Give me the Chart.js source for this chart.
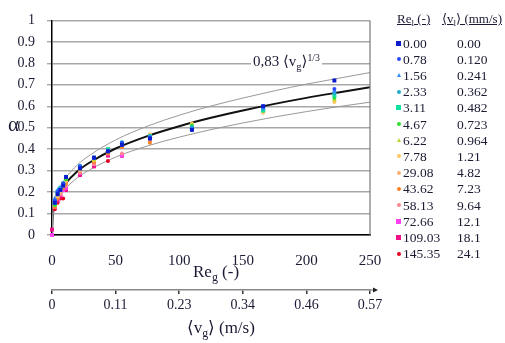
<!DOCTYPE html>
<html>
<head>
<meta charset="utf-8">
<script src="https://cdn.jsdelivr.net/npm/chart.js@4"></script>
<style>
  body { margin: 0; background: #fff; }
  #wrap { position: relative; width: 505px; height: 343px; font-family: "Liberation Serif", "DejaVu Serif", serif; color: #1a1a33; }
  #wrap canvas { position: absolute; left: 0; top: 0; }
  .t { position: absolute; white-space: nowrap; line-height: 1; }
  .t sub { font-size: 0.7em; vertical-align: -0.35em; line-height: 0; }
  .t sup { font-size: 0.65em; vertical-align: 0.55em; line-height: 0; }
  .mk { position: absolute; }
</style>
</head>
<body>
<div id="wrap">
  <canvas id="alphaChart" width="505" height="343"></canvas>
  <div class="t" style="left:8px;top:114px;font-size:21px;">α</div>
  <div class="t" style="left:193px;top:263px;font-size:17px;">Re<sub>g</sub> (-)</div>
  <div class="t" style="left:187px;top:319px;font-size:17px;">⟨v<sub>g</sub>⟩ (m/s)</div>
  <div class="t" style="left:251px;top:53px;font-size:15px;background:#fff;padding:1px 2px 3px 2px;">0,83 ⟨v<sub>g</sub>⟩<sup>1/3</sup></div>
  <div class="t" style="left:397px;top:12px;font-size:13px;text-decoration:underline;">Re<sub>l</sub> (-)</div>
  <div class="t" style="left:442px;top:12px;font-size:13px;text-decoration:underline;">⟨v<sub>l</sub>⟩ (mm/s)</div>
  <div id="legend"></div>
</div>
<script>
// Re_g (-) des colonnes de mesure
const reG = [0, 2.2, 4.4, 6.6, 8.8, 11, 22, 33, 44, 55, 77, 110, 166, 222];

// legende : Re_l (-) et <v_l> (mm/s)
const reL = ["0.00", "0.78", "1.56", "2.33", "3.11", "4.67", "6.22", "7.78", "29.08", "43.62", "58.13", "72.66", "109.03", "145.35"];
const vL = ["0.00", "0.120", "0.241", "0.362", "0.482", "0.723", "0.964", "1.21", "4.82", "7.23", "9.64", "12.1", "18.1", "24.1"];

// alpha mesure, une ligne par serie (null = pas de point)
const alpha = [
  [null, 0.15, 0.19, 0.21, 0.23, 0.27, 0.31, 0.36, 0.39, 0.42, 0.45, 0.49, 0.60, 0.72],
  [null, 0.16, 0.20, 0.21, 0.24, 0.27, 0.32, 0.36, 0.39, 0.43, 0.45, 0.49, 0.60, 0.68],
  [null, 0.17, 0.21, 0.22, 0.24, 0.27, 0.32, 0.36, 0.39, 0.43, 0.46, 0.50, 0.59, 0.67],
  [null, 0.15, 0.20, 0.22, 0.24, 0.27, 0.32, 0.36, 0.39, 0.42, 0.46, 0.50, 0.59, 0.66],
  [null, 0.15, 0.20, 0.22, 0.24, 0.27, 0.32, 0.36, 0.40, 0.43, 0.46, 0.50, 0.58, 0.65],
  [null, 0.14, 0.19, 0.22, 0.24, 0.26, 0.31, 0.36, 0.39, 0.43, 0.46, 0.51, 0.58, 0.64],
  [null, 0.14, 0.19, 0.21, 0.24, 0.26, 0.31, 0.35, 0.39, 0.42, 0.46, 0.51, 0.58, 0.63],
  [null, 0.14, 0.18, 0.21, 0.24, 0.26, 0.31, 0.35, 0.40, 0.42, 0.47, 0.52, 0.57, 0.62],
  [null, 0.14, 0.18, 0.20, 0.23, 0.25, 0.30, 0.35, 0.39, 0.42, 0.46, null, null, null],
  [null, 0.13, 0.17, 0.20, 0.22, 0.24, 0.30, 0.34, 0.38, 0.41, 0.43, null, null, null],
  [null, 0.13, 0.17, 0.19, 0.22, 0.23, 0.29, 0.33, 0.38, 0.38, 0.44, null, null, null],
  [0, 0.13, 0.17, 0.19, 0.21, 0.22, 0.29, 0.33, 0.38, 0.37, 0.45, null, null, null],
  [0.025, 0.13, 0.16, 0.18, 0.21, 0.21, 0.28, 0.32, 0.37, 0.37, null, null, null, null],
  [null, 0.12, 0.15, 0.17, 0.17, 0.21, 0.28, 0.32, 0.345, 0.37, null, null, null, null]
];

// courbe 0,83 <v_g>^(1/3) et bornes +/-10 %
const curveRe = [0, 0.5, 1, 2, 5, 10, 20, 30, 50, 75, 100, 125, 150, 175, 200, 225, 250];
const fitMid  = [0, 0.087, 0.109, 0.138, 0.187, 0.235, 0.297, 0.339, 0.403, 0.461, 0.507, 0.546, 0.580, 0.611, 0.639, 0.664, 0.688];
const fitHigh = [0, 0.096, 0.120, 0.152, 0.206, 0.259, 0.327, 0.373, 0.443, 0.507, 0.558, 0.601, 0.638, 0.672, 0.703, 0.730, 0.757];
const fitLow  = [0, 0.078, 0.098, 0.124, 0.168, 0.212, 0.267, 0.305, 0.363, 0.415, 0.456, 0.491, 0.522, 0.550, 0.575, 0.598, 0.619];

// second axe <v_g> (m/s)
const vgTicks = [0, 0.114, 0.228, 0.342, 0.456, 0.57];
const vgLabels = ["0", "0.11", "0.23", "0.34", "0.46", "0.57"];

const colors = ["#0a1ccc", "#2a4cff", "#2f8cff", "#22aacc", "#10e0a0", "#30e030", "#b8d830",
                "#ffc860", "#ffb070", "#ff8020", "#ff8890", "#ff40f0", "#f0108a", "#e80020"];
const shapes = ["rect", "circle", "triangle", "circle", "rect", "circle", "triangle",
                "circle", "circle", "circle", "circle", "rect", "rect", "circle"];

const ink = "#1a1a33";
const serif = "Liberation Serif";

const datasets = [];
alpha.forEach((row, i) => {
  const pts = [];
  row.forEach((a, j) => { if (a !== null) pts.push({ x: reG[j], y: a }); });
  datasets.push({
    label: reL[i],
    data: pts,
    backgroundColor: colors[i],
    borderColor: colors[i],
    borderWidth: 0,
    pointStyle: shapes[i],
    pointRadius: shapes[i] === "circle" ? 2 : 2.8,
    clip: false,
    order: 1
  });
});

function curve(vals, color, w) {
  return {
    data: curveRe.map((r, k) => ({ x: r, y: vals[k] })),
    showLine: true,
    pointRadius: 0,
    borderColor: color,
    borderWidth: w,
    cubicInterpolationMode: "monotone",
    order: 5
  };
}
datasets.push(curve(fitHigh, "#999", 1));
datasets.push(curve(fitLow, "#999", 1));
datasets.push(curve(fitMid, "#111", 2));

// cadre a droite + fleche sur l'axe <v_g>
const extras = {
  id: "extras",
  afterDraw(chart) {
    const { ctx, chartArea: a, scales } = chart;
    ctx.save();
    ctx.strokeStyle = "#777";
    ctx.lineWidth = 1.2;
    ctx.beginPath();
    ctx.moveTo(a.right, a.top);
    ctx.lineTo(a.right, a.bottom);
    ctx.stroke();
    const s = scales.x2;
    ctx.strokeStyle = "#888";
    ctx.beginPath();
    ctx.moveTo(s.right, s.top);
    ctx.lineTo(s.right + 4, s.top);
    ctx.stroke();
    ctx.fillStyle = "#222";
    ctx.beginPath();
    ctx.moveTo(s.right + 8, s.top);
    ctx.lineTo(s.right + 3, s.top - 2.5);
    ctx.lineTo(s.right + 3, s.top + 2.5);
    ctx.closePath();
    ctx.fill();
    ctx.restore();
  }
};

const ctx = document.getElementById("alphaChart").getContext("2d");
const myChart = new Chart(ctx, {
  type: "scatter",
  data: { datasets: datasets },
  options: {
    responsive: false,
    animation: false,
    devicePixelRatio: 1,
    layout: { padding: { left: 0, top: 7, right: 135, bottom: 0 } },
    plugins: { legend: { display: false }, tooltip: { enabled: false } },
    scales: {
      x: {
        type: "linear",
        position: "bottom",
        weight: 0,
        min: 0,
        max: 250,
        afterBuildTicks: s => { s.ticks = [0, 50, 100, 150, 200, 250].map(v => ({ value: v })); },
        afterFit: s => { s.height = 55; },
        ticks: { color: ink, font: { family: serif, size: 15 }, padding: 9, maxRotation: 0 },
        grid: { display: false },
        border: { display: true, color: "#000", width: 1.5 }
      },
      x2: {
        type: "linear",
        position: "bottom",
        weight: 1,
        min: 0,
        max: 0.57,
        afterBuildTicks: s => { s.ticks = vgTicks.map(v => ({ value: v })); },
        afterFit: s => { s.height = 53; },
        ticks: {
          color: ink, font: { family: serif, size: 14 }, padding: 3, maxRotation: 0,
          callback: (v, i) => vgLabels[i]
        },
        grid: { display: true, drawOnChartArea: false, drawTicks: true, tickLength: 4, color: "#333", lineWidth: 1.5 },
        border: { display: true, color: "#888", width: 1.5 }
      },
      y: {
        type: "linear",
        min: 0,
        max: 1,
        afterBuildTicks: s => { s.ticks = [0, 0.1, 0.2, 0.3, 0.4, 0.5, 0.6, 0.7, 0.8, 0.9, 1].map(v => ({ value: v })); },
        afterFit: s => { s.width = 52; },
        ticks: {
          color: ink, font: { family: serif, size: 14 }, padding: 12,
          callback: v => String(+v.toFixed(1))
        },
        grid: { color: "#a8a8a8", lineWidth: 1.4, tickLength: 5 },
        border: { display: true, color: "#000", width: 1.5 }
      }
    }
  },
  plugins: [extras]
});

// legende a droite (HTML)
const leg = document.getElementById("legend");
reL.forEach((r, i) => {
  const yc = 43 + i * 16.2;
  let mk;
  if (shapes[i] === "rect") {
    mk = `<div class="mk" style="left:396px;top:${yc - 2.5}px;width:5px;height:5px;background:${colors[i]}"></div>`;
  } else if (shapes[i] === "triangle") {
    mk = `<div class="mk" style="left:397px;top:${yc - 2.5}px;width:0;height:0;border-left:2.5px solid transparent;border-right:2.5px solid transparent;border-bottom:4.5px solid ${colors[i]}"></div>`;
  } else {
    mk = `<div class="mk" style="left:397px;top:${yc - 2}px;width:4px;height:4px;border-radius:50%;background:${colors[i]}"></div>`;
  }
  leg.insertAdjacentHTML("beforeend",
    mk +
    `<div class="t" style="left:403px;top:${yc - 6.5}px;font-size:13.5px;">${r}</div>` +
    `<div class="t" style="left:457px;top:${yc - 6.5}px;font-size:13.5px;">${vL[i]}</div>`);
});
</script>
</body>
</html>
